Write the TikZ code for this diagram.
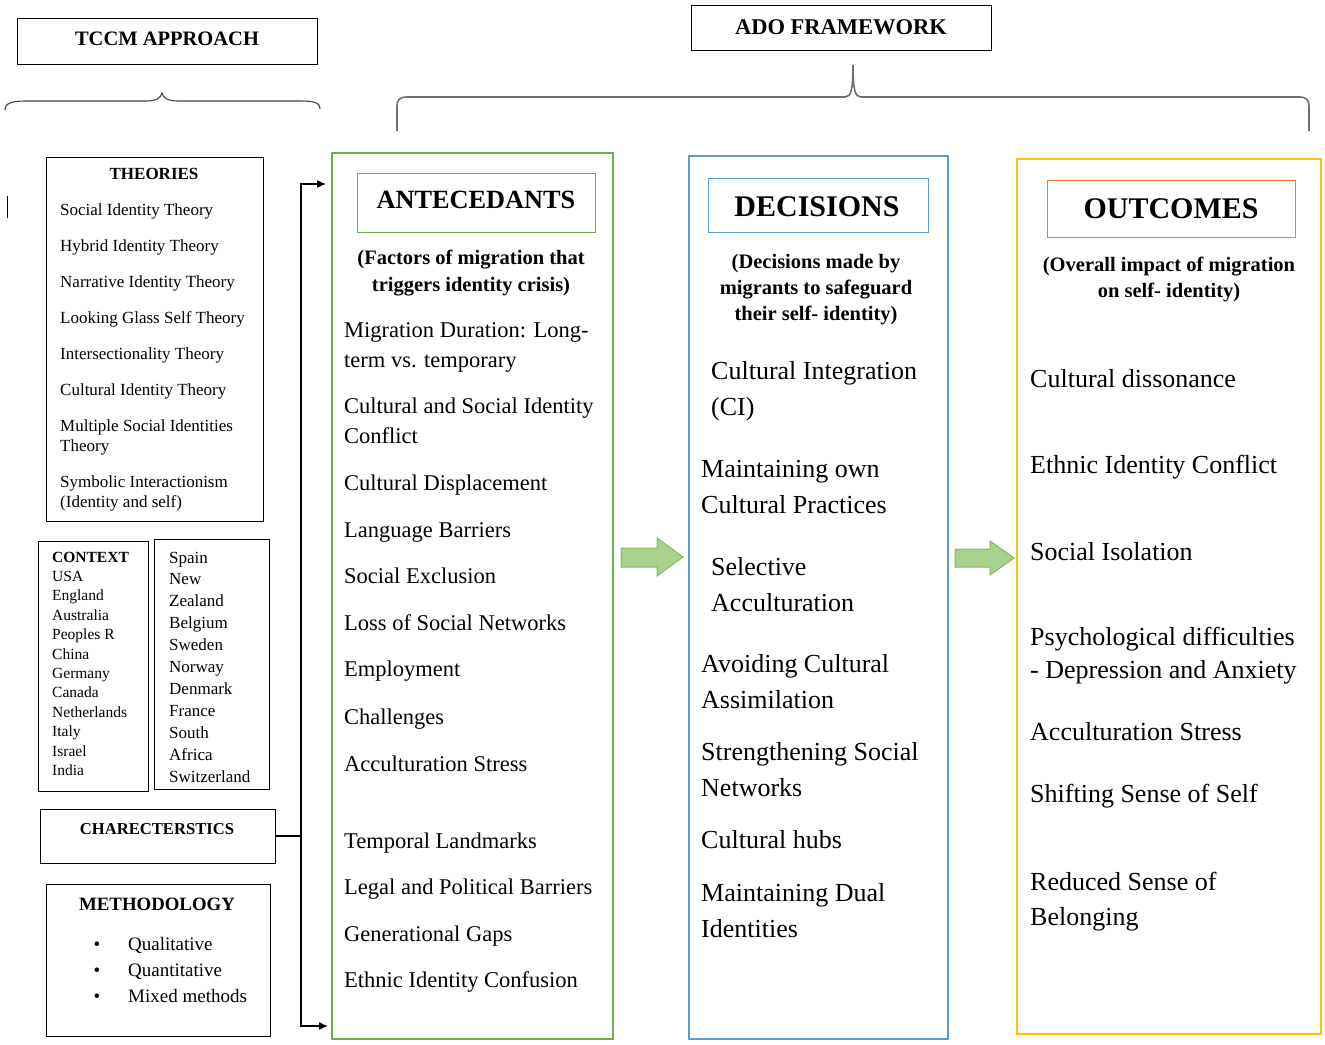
\documentclass[tikz,border=0pt]{standalone}
\usepackage{fontspec}
\setmainfont{Liberation Serif}
\usetikzlibrary{arrows.meta}
\definecolor{antgreen}{RGB}{112,173,71}
\definecolor{decblue}{RGB}{91,155,213}
\definecolor{outgold}{RGB}{255,192,0}
\definecolor{outorange}{RGB}{237,125,49}
\definecolor{arrfill}{RGB}{169,209,142}
\definecolor{arrdraw}{RGB}{130,186,96}
\definecolor{bracegray}{RGB}{110,110,110}
\begin{document}
\begin{tikzpicture}[x=1pt,y=-1pt,
  blackbox/.style={draw=black, line width=1.4pt, inner sep=0pt, anchor=north west},
  colbox/.style={line width=1.8pt, inner sep=0pt, anchor=north west},
  innerbox/.style={line width=1.3pt, inner sep=0pt, anchor=north west},
  hdr/.style={font=\bfseries\fontsize{20.5}{24}\selectfont, inner sep=0pt, anchor=base},
  bighdr/.style={font=\bfseries\fontsize{30}{34}\selectfont, inner sep=0pt, anchor=base},
  subtxt/.style={font=\bfseries\fontsize{20.5}{27}\selectfont, align=center, inner sep=0pt, anchor=base},
  itemA/.style={font=\fontsize{22.5}{30.5}\selectfont, align=left, inner sep=0pt, anchor=base west},
  itemD/.style={font=\fontsize{26}{36}\selectfont, align=left, inner sep=0pt, anchor=base west},
  theo/.style={font=\fontsize{17}{20}\selectfont, align=left, inner sep=0pt, anchor=base west},
  ctxL/.style={font=\fontsize{15.5}{19.4}\selectfont, align=left, inner sep=0pt, anchor=base west},
  ctxR/.style={font=\fontsize{17}{21.9}\selectfont, align=left, inner sep=0pt, anchor=base west},
  meth/.style={font=\fontsize{19}{26}\selectfont, inner sep=0pt, anchor=base west},
  conn/.style={draw=black, line width=1.2pt},
  blockarrow/.style={fill=arrfill, draw=arrdraw, line width=1pt, line join=miter}
]
\useasboundingbox (0,0) rectangle (1325,1044);

% ---------- TCCM side ----------
\node[blackbox, minimum width=300pt, minimum height=46pt] (tccm) at (17,18) {};
\node[hdr] (tccmT) at (167,45) {TCCM APPROACH};
\draw[line width=1.1pt, bracegray!60!black] (5,110) .. controls (5,103) and (12,101) .. (26,101) -- (146,101)
  .. controls (156,101) and (161,98) .. (162,93) .. controls (163,98) and (168,101) .. (178,101)
  -- (299,101) .. controls (313,101) and (320,102) .. (320,109);
\draw[line width=1pt] (7,196) -- (7,218);

% Theories (multi-line nodes: base anchor = last line)
\node[blackbox, minimum width=217pt, minimum height=364pt] (theories) at (46,157) {};
\node[font=\bfseries\fontsize{17}{20}\selectfont, inner sep=0pt, anchor=base] (theoT) at (154,179) {THEORIES};
\node[theo] (t1) at (60,215) {Social Identity Theory};
\node[theo] (t2) at (60,251) {Hybrid Identity Theory};
\node[theo] (t3) at (60,287) {Narrative Identity Theory};
\node[theo] (t4) at (60,323) {Looking Glass Self Theory};
\node[theo] (t5) at (60,359) {Intersectionality Theory};
\node[theo] (t6) at (60,395) {Cultural Identity Theory};
\node[theo] (t7) at (60,451) {Multiple Social Identities\\Theory};
\node[theo] (t8) at (60,507) {Symbolic Interactionism\\(Identity and self)};

% Context
\node[blackbox, minimum width=110pt, minimum height=250pt] (ctxL) at (38,541) {};
\node[blackbox, minimum width=115pt, minimum height=250pt] (ctxR) at (154,539) {};
\node[ctxL] (ctxLT) at (52,775.4) {\textbf{CONTEXT}\\USA\\England\\Australia\\Peoples R\\China\\Germany\\Canada\\Netherlands\\Italy\\Israel\\India};
\node[ctxR] (ctxRT) at (169,782) {Spain\\New\\Zealand\\Belgium\\Sweden\\Norway\\Denmark\\France\\South\\Africa\\Switzerland};

% Characteristics
\node[blackbox, minimum width=235pt, minimum height=54pt] (charb) at (40,809) {};
\node[font=\bfseries\fontsize{16.6}{20}\selectfont, inner sep=0pt, anchor=base] (charT) at (157,834) {CHARECTERSTICS};

% Methodology
\node[blackbox, minimum width=224pt, minimum height=152pt] (meth) at (46,884) {};
\node[font=\bfseries\fontsize{18.8}{24}\selectfont, inner sep=0pt, anchor=base] (methT) at (157,910) {METHODOLOGY};
\node[meth, anchor=base] (b1) at (97,950) {•};
\node[meth, anchor=base] (b2) at (97,976) {•};
\node[meth, anchor=base] (b3) at (97,1002) {•};
\node[meth] (m1) at (128,950) {Qualitative};
\node[meth] (m2) at (128,976) {Quantitative};
\node[meth] (m3) at (128,1002) {Mixed methods};

% connectors to antecedants
\coordinate (jn) at (301,836);
\coordinate (antIn1) at (326,184);
\coordinate (antIn2) at (328,1026);
\draw[conn] (charb.east |- jn) -- (jn);
\draw[conn, -{Latex[length=9pt,width=8pt]}] (jn) |- (antIn1);
\draw[conn, -{Latex[length=9pt,width=8pt]}] (jn) |- (antIn2);

% ---------- ADO side ----------
\node[blackbox, minimum width=300pt, minimum height=45pt] (ado) at (691,5) {};
\node[font=\bfseries\fontsize{22.5}{26}\selectfont, inner sep=0pt, anchor=base] (adoT) at (841,34) {ADO FRAMEWORK};
\draw[line width=1.6pt, bracegray] (397,131) -- (397,106) .. controls (397,100) and (400,97) .. (406,97)
  -- (845,97) .. controls (851,97) and (853,90) .. (853,65) .. controls (853,90) and (855,97) .. (861,97)
  -- (1300,97) .. controls (1306,97) and (1309,100) .. (1309,106) -- (1309,131);

% Antecedants column
\node[colbox, draw=antgreen, minimum width=281pt, minimum height=886pt] (ant) at (331,152) {};
\node[innerbox, draw=antgreen, minimum width=238pt, minimum height=59pt] (antH) at (357,173) {};
\node[font=\bfseries\fontsize{26.3}{30}\selectfont, inner sep=0pt, anchor=base] (antHT) at (476,208) {ANTECEDANTS};
\node[subtxt] (antS) at (471,291) {(Factors of migration that\\triggers identity crisis)};
\node[itemA] (a1) at (344,367.5) {Migration Duration: Long-\\term vs. temporary};
\node[itemA] (a2) at (344,443.5) {Cultural and Social Identity\\Conflict};
\node[itemA] (a3) at (344,490) {Cultural Displacement};
\node[itemA] (a4) at (344,537) {Language Barriers};
\node[itemA] (a5) at (344,583) {Social Exclusion};
\node[itemA] (a6) at (344,630) {Loss of Social Networks};
\node[itemA] (a7) at (344,676) {Employment};
\node[itemA] (a8) at (344,724) {Challenges};
\node[itemA] (a9) at (344,771) {Acculturation Stress};
\node[itemA] (a10) at (344,848) {Temporal Landmarks};
\node[itemA] (a11) at (344,894) {Legal and Political Barriers};
\node[itemA] (a12) at (344,941) {Generational Gaps};
\node[itemA] (a13) at (344,987) {Ethnic Identity Confusion};

% Decisions column
\node[colbox, draw=decblue, minimum width=259pt, minimum height=883pt] (dec) at (688,155) {};
\node[innerbox, draw=decblue, minimum width=220pt, minimum height=54pt] (decH) at (708,178) {};
\node[bighdr] (decHT) at (817,216) {DECISIONS};
\node[subtxt, font=\bfseries\fontsize{20.5}{26}\selectfont] (decS) at (816,320) {(Decisions made by\\migrants to safeguard\\their self- identity)};
\node[itemD] (d1) at (711,415) {Cultural Integration\\(CI)};
\node[itemD] (d2) at (701,513) {Maintaining own\\Cultural Practices};
\node[itemD] (d3) at (711,611) {Selective\\Acculturation};
\node[itemD] (d4) at (701,708) {Avoiding Cultural\\Assimilation};
\node[itemD] (d5) at (701,796) {Strengthening Social\\Networks};
\node[itemD] (d6) at (701,848) {Cultural hubs};
\node[itemD] (d7) at (701,937) {Maintaining Dual\\Identities};

% Outcomes column
\node[colbox, draw=outgold, minimum width=304pt, minimum height=875pt] (out) at (1016,158) {};
\node[innerbox, draw=outorange, minimum width=248pt, minimum height=57pt] (outH) at (1047,180) {};
\node[bighdr] (outHT) at (1171,218) {OUTCOMES};
\node[subtxt, font=\bfseries\fontsize{20.5}{26}\selectfont] (outS) at (1169,297) {(Overall impact of migration\\on self- identity)};
\node[itemD] (o1) at (1030,387) {Cultural dissonance};
\node[itemD] (o2) at (1030,473) {Ethnic Identity Conflict};
\node[itemD] (o3) at (1030,560) {Social Isolation};
\node[itemD, font=\fontsize{26}{33}\selectfont] (o4) at (1030,678) {Psychological difficulties\\- Depression and Anxiety};
\node[itemD] (o5) at (1030,740) {Acculturation Stress};
\node[itemD] (o6) at (1030,802) {Shifting Sense of Self};
\node[itemD, font=\fontsize{26}{35}\selectfont] (o7) at (1030,925) {Reduced Sense of\\Belonging};

% block arrows between columns
\draw[blockarrow] (621,548) -- (657,548) -- (657,538) -- (683,557) -- (657,576) -- (657,567) -- (621,567) -- cycle;
\draw[blockarrow] (955,549) -- (990,549) -- (990,541) -- (1014,558) -- (990,575) -- (990,567) -- (955,567) -- cycle;
\end{tikzpicture}
\end{document}
